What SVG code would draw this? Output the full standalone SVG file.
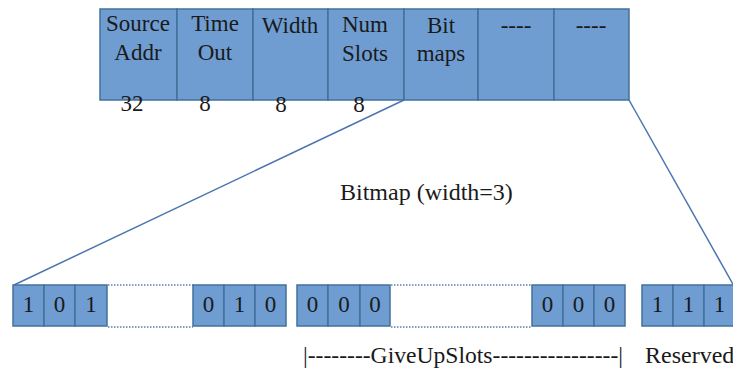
<svg xmlns="http://www.w3.org/2000/svg" width="733" height="371" viewBox="0 0 733 371">
<style>
.c{fill:#6f9dd2;stroke:#41719c;stroke-width:1.5}
text{font-family:'Liberation Serif','DejaVu Serif','Times New Roman',Times,serif;fill:#1a1a1a}
.h{font-size:23px;text-anchor:middle}
.d{font-size:23px;text-anchor:middle}
.l{font-size:24px}
.dot{stroke:#5a7fb0;stroke-width:1.5;stroke-dasharray:1.5 1.5;fill:none}
.con{stroke:#4a76b0;stroke-width:1.5;fill:none}
</style>
<g id="connectors">
<line class="con" x1="404" y1="100" x2="14" y2="285"/>
<line class="con" x1="629" y1="100" x2="734" y2="286"/>
</g>
<g id="header" font-family="Liberation Serif, DejaVu Serif, serif">
<g id="f-source"><rect class="c" x="100" y="9" width="77" height="91"/><text class="h" x="138" y="31">Source</text><text class="h" x="138" y="60">Addr</text></g>
<g id="f-timeout"><rect class="c" x="177" y="9" width="76" height="91"/><text class="h" x="215" y="31">Time</text><text class="h" x="215" y="60">Out</text></g>
<g id="f-width"><rect class="c" x="253" y="9" width="75" height="91"/><text class="h" x="290" y="33">Width</text></g>
<g id="f-numslots"><rect class="c" x="328" y="9" width="76" height="91"/><text class="h" x="365" y="32">Num</text><text class="h" x="365" y="61">Slots</text></g>
<g id="f-bitmaps"><rect class="c" x="404" y="9" width="74" height="91"/><text class="h" x="441" y="33">Bit</text><text class="h" x="441" y="61">maps</text></g>
<g id="f-r1"><rect class="c" x="478" y="9" width="76" height="91"/><text class="h" x="516" y="33">----</text></g>
<g id="f-r2"><rect class="c" x="554" y="9" width="75" height="91"/><text class="h" x="591" y="33">----</text></g>
<text class="h" x="132" y="111">32</text>
<text class="h" x="205" y="111">8</text>
<text class="h" x="281" y="112">8</text>
<text class="h" x="359" y="112">8</text>
</g>
<g id="bitmap-label"><text class="l" x="340" y="200">Bitmap (width=3)</text></g>
<g id="bits-a">
<rect class="c" x="13" y="285" width="31" height="41"/><rect class="c" x="44" y="285" width="31" height="41"/><rect class="c" x="75" y="285" width="32" height="41"/>
<text class="d" x="28.5" y="312">1</text><text class="d" x="59.5" y="312">0</text><text class="d" x="91" y="312">1</text>
<line class="dot" x1="108" y1="285" x2="193" y2="285"/><line class="dot" x1="108" y1="327" x2="193" y2="327"/>
<rect class="c" x="193" y="285" width="31" height="41"/><rect class="c" x="224" y="285" width="31" height="41"/><rect class="c" x="255" y="285" width="31" height="41"/>
<text class="d" x="208.5" y="312">0</text><text class="d" x="239.5" y="312">1</text><text class="d" x="270.5" y="312">0</text>
</g>
<g id="bits-giveup">
<rect class="c" x="297" y="285" width="31" height="41"/><rect class="c" x="328" y="285" width="32" height="41"/><rect class="c" x="360" y="285" width="30" height="41"/>
<text class="d" x="312.5" y="312">0</text><text class="d" x="344" y="312">0</text><text class="d" x="375" y="312">0</text>
<line class="dot" x1="391" y1="285" x2="532" y2="285"/><line class="dot" x1="391" y1="327" x2="532" y2="327"/>
<rect class="c" x="532" y="285" width="31" height="41"/><rect class="c" x="563" y="285" width="31" height="41"/><rect class="c" x="594" y="285" width="31" height="41"/>
<text class="d" x="547.5" y="312">0</text><text class="d" x="578.5" y="312">0</text><text class="d" x="609.5" y="312">0</text>
<text class="l" x="303" y="363" textLength="320" lengthAdjust="spacingAndGlyphs">|--------GiveUpSlots----------------|</text>
</g>
<g id="bits-reserved">
<rect class="c" x="642" y="285" width="31" height="41"/><rect class="c" x="673" y="285" width="31" height="41"/><rect class="c" x="704" y="285" width="31" height="41"/>
<text class="d" x="657.5" y="312">1</text><text class="d" x="688.5" y="312">1</text><text class="d" x="719.5" y="312">1</text>
<text class="l" x="645" y="363">Reserved</text>
</g>
</svg>
